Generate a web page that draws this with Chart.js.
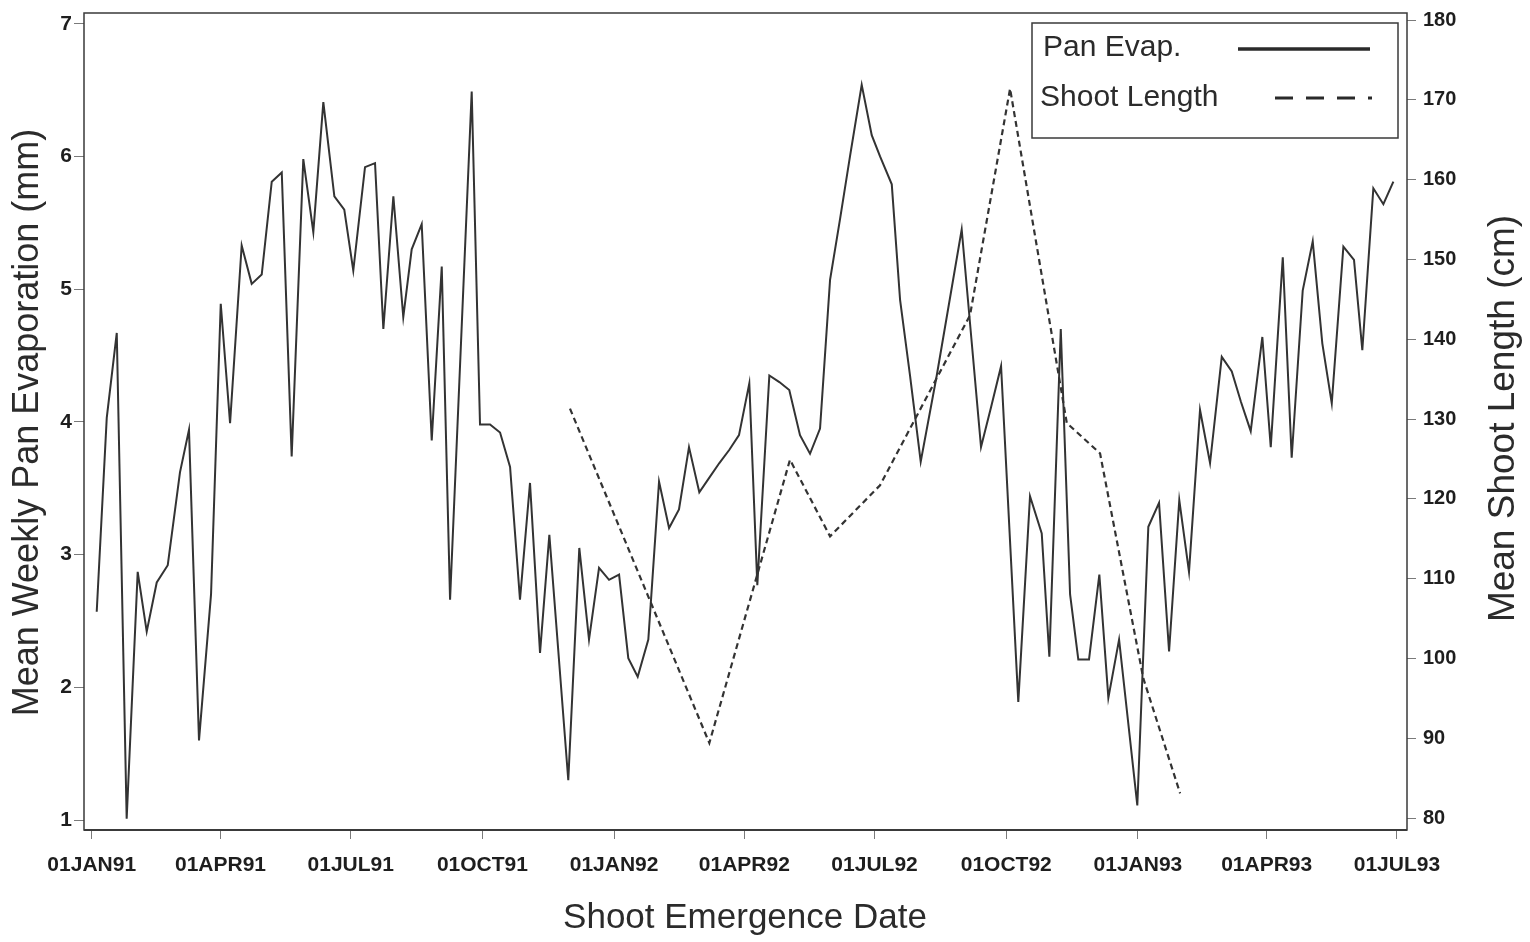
<!DOCTYPE html>
<html>
<head>
<meta charset="utf-8">
<script src="https://cdn.jsdelivr.net/npm/chart.js@4.4.0/dist/chart.umd.min.js"></script>
<style>
  html, body { margin: 0; padding: 0; background: #ffffff; }
  #wrap { width: 1530px; height: 942px; }
</style>
</head>
<body>
<div id="wrap"><canvas id="chart" width="1530" height="942"></canvas></div>
<script>
// Weekly mean pan evaporation: position in weeks after 01JAN91, value in mm
const evapWeek = [
  0.50, 1.50, 2.50, 3.49, 4.59, 5.49, 6.49, 7.59, 8.81, 9.71,
  10.71, 11.91, 12.88, 13.81, 14.97, 15.97, 16.97, 17.97, 18.97, 19.96,
  21.12, 22.12, 23.12, 24.22, 25.21, 26.11, 27.28, 28.28, 29.11, 30.11,
  31.10, 31.94, 32.94, 33.94, 34.94, 35.77, 37.93, 38.76, 39.76, 40.76,
  41.76, 42.75, 43.75, 44.75, 45.68, 47.57, 48.67, 49.64, 50.64, 51.64,
  52.64, 53.56, 54.50, 55.56, 56.63, 57.63, 58.62, 59.62, 60.65, 61.65,
  62.65, 63.65, 64.61, 65.64, 66.44, 67.64, 68.64, 69.63, 70.70, 71.70,
  72.70, 73.70, 74.70, 75.69, 76.86, 77.86, 78.69, 79.86, 80.69, 81.68,
  82.75, 84.35, 86.84, 87.84, 88.77, 89.77, 90.77, 92.49, 93.66, 94.83,
  95.59, 96.73, 97.66, 98.48, 99.55, 100.58, 101.48, 102.55, 104.37, 105.47,
  106.54, 107.54, 108.56, 109.53, 110.63, 111.63, 112.80, 113.80, 114.72, 115.69,
  116.85, 117.69, 118.89, 119.78, 120.88, 121.88, 122.84, 123.78, 124.94, 126.00,
  126.83, 127.93, 128.93, 129.93
];
const evapMm = [
  2.57, 4.03, 4.67, 1.01, 2.87, 2.42, 2.79, 2.92, 3.62, 3.94,
  1.60, 2.70, 4.89, 3.99, 5.33, 5.04, 5.11, 5.81, 5.88, 3.74,
  5.98, 5.43, 6.41, 5.70, 5.60, 5.14, 5.92, 5.95, 4.70, 5.70,
  4.79, 5.30, 5.49, 3.86, 5.17, 2.66, 6.49, 3.98, 3.98, 3.92,
  3.66, 2.66, 3.54, 2.26, 3.15, 1.30, 3.05, 2.36, 2.90, 2.81,
  2.85, 2.22, 2.08, 2.36, 3.55, 3.20, 3.34, 3.81, 3.47, 3.58,
  3.69, 3.79, 3.90, 4.29, 2.77, 4.35, 4.30, 4.24, 3.90, 3.76,
  3.95, 5.07, 5.53, 6.00, 6.54, 6.16, 6.00, 5.79, 4.92, 4.35,
  3.70, 4.35, 5.45, 4.60, 3.81, 4.11, 4.42, 1.89, 3.44, 3.16,
  2.23, 4.70, 2.70, 2.21, 2.21, 2.85, 1.92, 2.36, 1.11, 3.21,
  3.39, 2.27, 3.41, 2.87, 4.09, 3.69, 4.49, 4.38, 4.15, 3.93,
  4.64, 3.81, 5.24, 3.73, 4.99, 5.36, 4.59, 4.14, 5.32, 5.22,
  4.54, 5.76, 5.64, 5.81
];

// Mean shoot length by emergence date: weeks after 01JAN91, value in cm
const shootWeek = [47.74, 61.65, 69.70, 73.70, 78.69, 87.67, 91.67, 97.33, 100.65, 104.97, 108.64];
const shootCm   = [131.3, 89.4, 124.9, 115.3, 121.7, 143.0, 171.4, 129.5, 125.7, 97.5, 83.1];

// Axis ticks
const xTickDates  = ['1991-01-01', '1991-04-01', '1991-07-01', '1991-10-01', '1992-01-01', '1992-04-01',
                     '1992-07-01', '1992-10-01', '1993-01-01', '1993-04-01', '1993-07-01'];
const xTickLabels = ['01JAN91', '01APR91', '01JUL91', '01OCT91', '01JAN92', '01APR92',
                     '01JUL92', '01OCT92', '01JAN93', '01APR93', '01JUL93'];
const evapTicks  = [1, 2, 3, 4, 5, 6, 7];
const shootTicks = [80, 90, 100, 110, 120, 130, 140, 150, 160, 170, 180];

const seriesLabels = ['Pan Evap.', 'Shoot Length'];
const axisTitles = {
  x: 'Shoot Emergence Date',
  left: 'Mean Weekly Pan Evaporation (mm)',
  right: 'Mean Shoot Length (cm)'
};

const FONT = "'Liberation Sans', Arial, Helvetica, sans-serif";
const INK = '#2b2b2b';
const DAY_MS = 86400000;

function weeksSinceStart(iso) {
  const p = iso.split('-').map(Number);
  return (Date.UTC(p[0], p[1] - 1, p[2]) - Date.UTC(1991, 0, 1)) / (7 * DAY_MS);
}
const xTickWeeks = xTickDates.map(weeksSinceStart);

const evapPoints  = evapWeek.map((w, i) => ({ x: w, y: evapMm[i] }));
const shootPoints = shootWeek.map((w, i) => ({ x: w, y: shootCm[i] }));

// Frame, rotated axis titles and the boxed key
const decorations = {
  id: 'decorations',
  afterDraw(chart) {
    const ctx = chart.ctx;
    const a = chart.chartArea;
    ctx.save();

    // plot frame
    ctx.strokeStyle = '#3a3a3a';
    ctx.lineWidth = 1.5;
    ctx.strokeRect(a.left, a.top, a.right - a.left, a.bottom - a.top);
    ctx.lineWidth = 2.2;
    ctx.beginPath();
    ctx.moveTo(a.left, a.bottom);
    ctx.lineTo(a.right, a.bottom);
    ctx.stroke();

    // axis titles
    ctx.fillStyle = INK;
    ctx.textAlign = 'center';
    ctx.textBaseline = 'middle';
    ctx.font = '36px ' + FONT;
    const midY = (a.top + a.bottom) / 2;

    ctx.save();
    ctx.translate(28, midY + 1);
    ctx.rotate(-Math.PI / 2);
    ctx.fillText(axisTitles.left, 0, 0);
    ctx.restore();

    ctx.save();
    ctx.translate(1504, midY - 3);
    ctx.rotate(-Math.PI / 2);
    ctx.font = '37px ' + FONT;
    ctx.fillText(axisTitles.right, 0, 0);
    ctx.restore();

    ctx.font = '35px ' + FONT;
    ctx.fillText(axisTitles.x, 745, 918);

    // key
    const bx = 1032, by = 23, bw = 366, bh = 115;
    ctx.fillStyle = '#ffffff';
    ctx.fillRect(bx, by, bw, bh);
    ctx.strokeStyle = '#3a3a3a';
    ctx.lineWidth = 1.5;
    ctx.strokeRect(bx, by, bw, bh);

    ctx.fillStyle = INK;
    ctx.textAlign = 'left';
    ctx.font = '30px ' + FONT;
    ctx.fillText(chart.data.datasets[0].label, 1043, 48);
    ctx.fillText(chart.data.datasets[1].label, 1040, 98);

    ctx.strokeStyle = '#2a2a2a';
    ctx.lineWidth = 3.5;
    ctx.beginPath();
    ctx.moveTo(1238, 49);
    ctx.lineTo(1370, 49);
    ctx.stroke();

    ctx.lineWidth = 3;
    ctx.setLineDash([18, 13]);
    ctx.beginPath();
    ctx.moveTo(1275, 98);
    ctx.lineTo(1372, 98);
    ctx.stroke();
    ctx.setLineDash([]);

    ctx.restore();
  }
};

const tickGrid = (len) => ({
  display: true,
  drawOnChartArea: false,
  drawTicks: true,
  tickLength: len,
  color: '#7a7a7a',
  lineWidth: 1
});

new Chart(document.getElementById('chart'), {
  type: 'line',
  data: {
    datasets: [
      {
        label: seriesLabels[0],
        data: evapPoints,
        yAxisID: 'y',
        borderColor: '#333333',
        borderWidth: 2,
        pointRadius: 0,
        tension: 0,
        fill: false
      },
      {
        label: seriesLabels[1],
        data: shootPoints,
        yAxisID: 'y1',
        borderColor: '#333333',
        borderWidth: 2.2,
        borderDash: [6, 4],
        pointRadius: 0,
        tension: 0,
        fill: false
      }
    ]
  },
  options: {
    responsive: false,
    animation: false,
    devicePixelRatio: 1,
    layout: { padding: { top: 13, left: 0, right: 0, bottom: 0 } },
    plugins: {
      legend: { display: false },
      tooltip: { enabled: false }
    },
    scales: {
      x: {
        type: 'linear',
        position: 'bottom',
        min: -0.77,
        max: 131.29,
        grid: tickGrid(9),
        border: { display: false },
        ticks: {
          autoSkip: false,
          maxRotation: 0,
          padding: 14,
          color: '#1e1e1e',
          font: { family: FONT, size: 21, weight: 'bold' },
          callback: (v, i) => xTickLabels[i]
        },
        afterBuildTicks: (s) => { s.ticks = xTickWeeks.map(v => ({ value: v })); },
        afterFit: (s) => { s.height = 112; s.paddingLeft = 0; s.paddingRight = 0; }
      },
      y: {
        type: 'linear',
        position: 'left',
        min: 0.925,
        max: 7.081,
        grid: tickGrid(10),
        border: { display: false },
        ticks: {
          padding: 2,
          color: '#1e1e1e',
          font: { family: FONT, size: 21, weight: 'bold' }
        },
        afterBuildTicks: (s) => { s.ticks = evapTicks.map(v => ({ value: v })); },
        afterFit: (s) => { s.width = 84; s.paddingTop = 0; s.paddingBottom = 0; }
      },
      y1: {
        type: 'linear',
        position: 'right',
        min: 78.5,
        max: 180.88,
        grid: tickGrid(9),
        border: { display: false },
        ticks: {
          padding: 7,
          color: '#1e1e1e',
          font: { family: FONT, size: 20, weight: 'bold' }
        },
        afterBuildTicks: (s) => { s.ticks = shootTicks.map(v => ({ value: v })); },
        afterFit: (s) => { s.width = 123; s.paddingTop = 0; s.paddingBottom = 0; }
      }
    }
  },
  plugins: [decorations]
});
</script>
</body>
</html>
